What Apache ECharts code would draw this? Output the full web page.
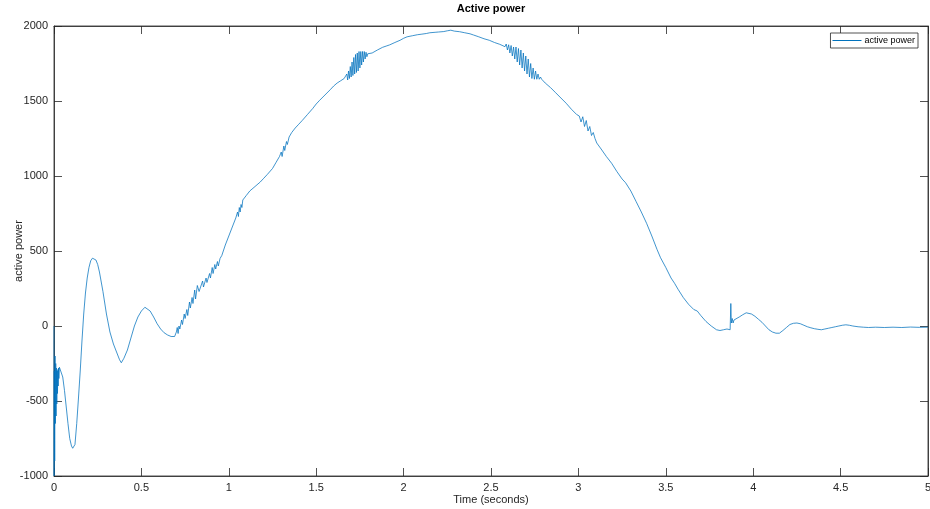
<!DOCTYPE html>
<html>
<head>
<meta charset="utf-8">
<script src="https://cdn.jsdelivr.net/npm/echarts@6/dist/echarts.min.js"></script>
<style>html,body{margin:0;padding:0;background:#fff}#c{width:930px;height:509px}</style>
</head>
<body>
<div id="c"></div>
<script>
var titleText = 'Active power';
var seriesName = 'active power';
var xName = 'Time (seconds)';
var yName = 'active power';
var xTicks = [0, 0.5, 1, 1.5, 2, 2.5, 3, 3.5, 4, 4.5, 5];
var yTicks = [-1000, -500, 0, 500, 1000, 1500, 2000];

var time = [
0,0.0005,0.002,0.004,0.006,0.008,0.010,0.012,0.014,0.016,0.018,0.020,0.022,0.024,0.026,0.028,0.031,0.035,0.04,0.05,0.06,0.07,0.08,0.09,0.1,0.107,0.115,0.12,0.13,0.14,0.15,0.16,0.17,0.18,0.19,0.2,0.21,0.22,0.225,0.23,0.24,0.25,0.26,0.28,0.3,0.32,0.34,0.36,0.375,0.385,0.39,0.4,0.42,0.44,0.46,0.48,0.5,0.52,0.53,0.55,0.57,0.59,0.61,0.63,0.65,0.67,0.68,0.69,0.70,0.705,0.71,0.715,0.72,0.73,0.735,0.745,0.75,0.76,0.765,0.775,0.78,0.79,0.795,0.805,0.81,0.82,0.83,0.84,0.85,0.855,0.87,0.875,0.89,0.895,0.905,0.91,0.92,0.925,0.935,0.94,0.95,0.96,0.98,1.0,1.02,1.04,1.05,1.055,1.06,1.065,1.07,1.075,1.08,1.1,1.12,1.15,1.18,1.2,1.22,1.25,1.27,1.29,1.3,1.305,1.315,1.32,1.33,1.335,1.345,1.36,1.38,1.4,1.42,1.45,1.48,1.5,1.52,1.55,1.58,1.6,1.62,1.64,1.66,
1.665,1.670,1.675,1.680,1.685,1.690,1.695,1.700,1.705,1.710,1.715,1.720,1.725,1.730,1.735,1.740,1.745,1.750,1.755,1.760,1.765,1.770,1.775,1.780,1.785,1.790,1.795,1.80,
1.82,1.85,1.88,1.9,1.92,1.95,1.98,2.0,2.02,2.05,2.08,2.1,2.13,2.15,2.18,2.2,2.23,2.25,2.27,2.29,2.32,2.35,2.38,2.4,2.43,2.46,2.49,2.52,2.55,2.58,
2.587,2.594,2.601,2.608,2.615,2.622,2.629,2.636,2.643,2.650,2.657,2.664,2.671,2.678,2.685,2.692,2.699,2.706,2.713,2.720,2.727,2.734,2.741,2.748,2.755,2.762,2.769,2.776,2.783,2.79,
2.81,2.84,2.87,2.9,2.93,2.96,2.99,
3.005,3.015,3.025,3.035,3.045,3.055,3.065,3.075,3.085,3.095,3.105,
3.13,3.16,3.19,3.22,3.25,3.27,3.3,3.33,3.36,3.39,3.42,3.45,3.47,3.5,3.53,3.55,3.57,3.6,3.63,3.66,3.68,3.7,3.73,3.76,3.79,3.8,3.81,3.83,3.85,3.868,3.872,3.875,3.88,3.885,3.89,3.9,3.92,3.94,3.96,3.97,3.99,4.01,4.03,4.05,4.07,4.09,4.11,4.13,4.14,4.15,4.17,4.19,4.21,4.23,4.24,4.25,4.27,4.29,4.31,4.33,4.35,4.37,4.39,4.41,4.43,4.45,4.47,4.49,4.51,4.53,4.55,4.57,4.6,4.63,4.66,4.7,4.75,4.8,4.85,4.9,4.95,5.0
];
var power = [
0,-1000,-300,-900,-200,-650,-250,-600,-280,-520,-300,-450,-290,-400,-280,-350,-275,-270,-280,-340,-430,-540,-650,-750,-800,-815,-805,-790,-650,-480,-300,-100,80,220,320,390,435,452,440,448,440,410,360,230,80,-40,-120,-180,-225,-245,-235,-215,-160,-80,0,60,100,125,120,100,60,15,-20,-45,-60,-70,-78,-70,-40,-10,-50,0,-20,40,10,80,50,110,70,160,120,190,150,240,180,270,230,240,300,260,320,290,350,320,390,350,410,380,430,400,450,470,540,600,660,720,760,730,790,760,810,790,840,870,900,930,960,985,1010,1050,1090,1130,1160,1130,1200,1170,1230,1210,1260,1290,1320,1345,1370,1410,1450,1480,1505,1540,1575,1600,1620,1635,1650,
1660,1640,1680,1640,1700,1650,1730,1660,1760,1670,1790,1680,1810,1690,1820,1700,1830,1720,1830,1740,1830,1760,1830,1780,1825,1795,1815,1805,
1820,1840,1858,1866,1874,1890,1905,1918,1928,1935,1942,1945,1950,1955,1958,1960,1963,1968,1972,1966,1962,1955,1948,1940,1928,1915,1905,1890,1878,1862,
1880,1840,1875,1820,1870,1800,1860,1780,1860,1760,1850,1740,1840,1720,1820,1700,1800,1680,1780,1660,1750,1650,1720,1645,1700,1645,1680,1645,1660,1645,
1620,1590,1555,1520,1485,1445,1410,
1400,1360,1395,1330,1370,1300,1330,1270,1290,1250,1220,
1180,1130,1085,1030,980,955,900,830,760,685,600,510,455,390,320,285,245,190,145,110,100,70,30,0,-25,-35,-30,-25,-20,-25,150,20,50,20,40,45,60,75,88,90,80,65,45,25,0,-25,-40,-48,-45,-48,-30,-10,10,18,25,20,15,5,-5,-12,-18,-22,-25,-20,-15,-10,-5,0,5,8,5,0,-5,-8,-10,-8,-10,-8,-10,-7,-9,-8
];

var pts = time.map(function (t, i) { return [t, power[i]]; });
var axisColor = '#262626';
var font = 'Liberation Sans, Arial, sans-serif';

function mkTick() { return { show: true, inside: true, length: 8, lineStyle: { color: axisColor, width: 0.8 } }; }
function mkLine() { return { show: true, onZero: false, lineStyle: { color: axisColor, width: 0.8 } }; }

var chart = echarts.init(document.getElementById('c'), null, { renderer: 'canvas' });
chart.setOption({
  animation: false,
  backgroundColor: '#ffffff',
  title: {
    text: titleText, left: 491, textAlign: 'center', top: 3, padding: 0,
    textStyle: { fontFamily: font, fontSize: 11, fontWeight: 'bold', color: '#000' }
  },
  legend: {
    data: [{ name: seriesName, icon: 'rect' }],
    right: 12, top: 33, itemWidth: 29, itemHeight: 1, itemGap: 3,
    borderColor: axisColor, borderWidth: 0.8, borderRadius: 0, padding: [3, 3, 3, 2],
    backgroundColor: '#fff',
    textStyle: { color: '#000', fontFamily: font, fontSize: 9, padding: [0, 0, 0, -2] }
  },
  grid: { left: 54, right: 2, top: 26, bottom: 33, containLabel: false, outerBoundsMode: 'none',
    show: true, borderColor: axisColor, borderWidth: 0.8, backgroundColor: '#fff' },
  xAxis: [{
    type: 'value', min: 0, max: 5, interval: 0.5,
    name: xName, nameLocation: 'middle', nameGap: 18, nameMoveOverlap: false,
    nameTextStyle: { color: '#262626', fontFamily: font, fontSize: 11 },
    axisLine: mkLine(), axisTick: mkTick(),
    axisLabel: { color: '#262626', fontFamily: font, fontSize: 11, margin: 6,
      formatter: function (v) { return String(v); } },
    splitLine: { show: false }
  }, {
    type: 'value', min: 0, max: 5, interval: 0.5, position: 'top',
    axisLine: mkLine(), axisTick: mkTick(),
    axisLabel: { show: false }, splitLine: { show: false }
  }],
  yAxis: [{
    type: 'value', min: -1000, max: 2000, interval: 500,
    name: yName, nameLocation: 'middle', nameGap: 30, nameRotate: 90, nameMoveOverlap: false,
    nameTextStyle: { color: '#262626', fontFamily: font, fontSize: 11 },
    axisLine: mkLine(), axisTick: mkTick(),
    axisLabel: { color: '#262626', fontFamily: font, fontSize: 11, margin: 6,
      formatter: function (v) { return String(v); } },
    splitLine: { show: false }
  }, {
    type: 'value', min: -1000, max: 2000, interval: 500, position: 'right',
    axisLine: mkLine(), axisTick: mkTick(),
    axisLabel: { show: false }, splitLine: { show: false }
  }],
  series: [{
    name: seriesName, type: 'line', data: pts, showSymbol: false, symbol: 'none',
    xAxisIndex: 0, yAxisIndex: 0,
    lineStyle: { color: '#0072BD', width: 0.75 }, itemStyle: { color: '#0072BD' }
  }]
});
</script>
</body>
</html>
